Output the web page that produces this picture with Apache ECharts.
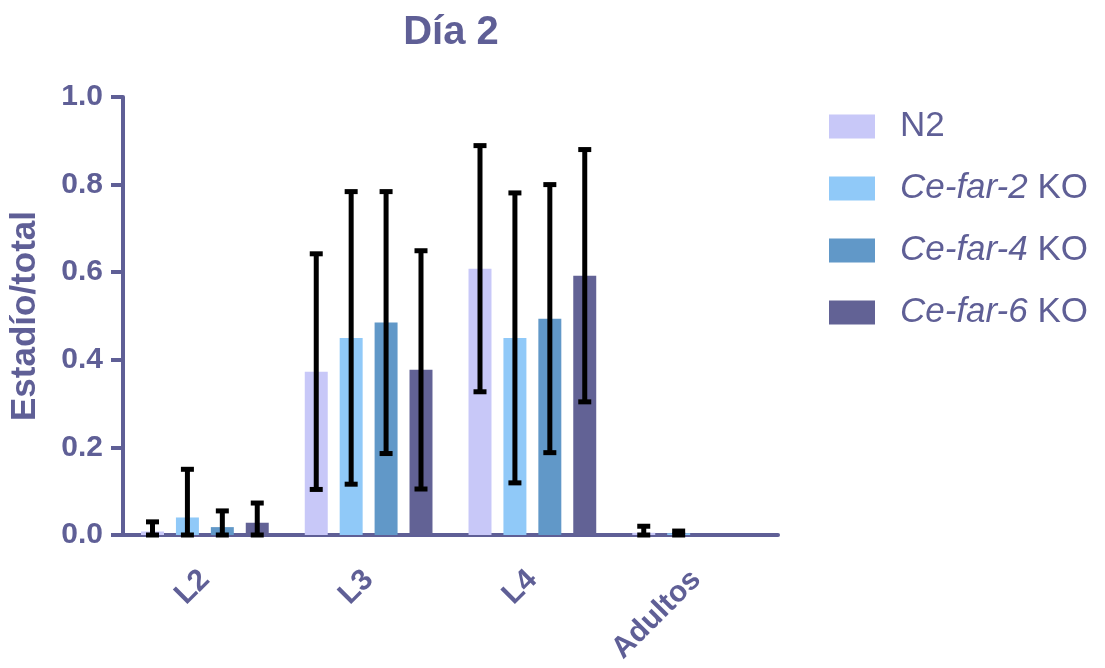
<!DOCTYPE html>
<html>
<head>
<meta charset="utf-8">
<script src="https://cdn.jsdelivr.net/npm/echarts@6/dist/echarts.min.js"></script>
<style>
  html, body { margin: 0; padding: 0; background: #fff; }
  #chart { width: 1105px; height: 668px; }
</style>
</head>
<body>
<div id="chart"></div>
<script>
const categories = ['L2', 'L3', 'L4', 'Adultos'];
const seriesNames = ['N2', 'Ce-far-2 KO', 'Ce-far-4 KO', 'Ce-far-6 KO'];

// mean values
const n2 = [0.008, 0.373, 0.608, 0.005];
const far2 = [0.040, 0.450, 0.450, 0.004];
const far4 = [0.018, 0.485, 0.494, 0];
const far6 = [0.028, 0.377, 0.592, 0];

// standard deviation (error bars)
const n2Sd = [0.022, 0.269, 0.281, 0.015];
const far2Sd = [0.110, 0.334, 0.331, 0.005];
const far4Sd = [0.037, 0.299, 0.306, 0];
const far6Sd = [0.045, 0.272, 0.288, 0];

const yTicks = [0, 0.2, 0.4, 0.6, 0.8, 1.0];

const means = [n2, far2, far4, far6];
const sds = [n2Sd, far2Sd, far4Sd, far6Sd];
const colors = ['#c8c8f8', '#90c9f8', '#6198c8', '#626295'];
const ink = '#5f5f96';
const font = 'Liberation Sans, Arial, sans-serif';

const CAT_GAP = 0.22;
const BAR_GAP = 0.52;

const chart = echarts.init(document.getElementById('chart'));

function errorSeries(k) {
    const data = categories.map((c, i) => {
        const m = means[k][i], s = sds[k][i];
        return [i, Math.max(0, m - s), m + s];
    }).filter(d => d[2] > 0);
    return {
        type: 'custom',
        name: seriesNames[k] + ' err',
        z: 10,
        data: data,
        renderItem: function (params, api) {
            const catW = api.size([1, 0])[0];
            const n = 4;
            const barW = catW * (1 - CAT_GAP) / (n + (n - 1) * BAR_GAP);
            const step = barW * (1 + BAR_GAP);
            const dx = (k - (n - 1) / 2) * step;
            const lo = api.coord([api.value(0), api.value(1)]);
            const hi = api.coord([api.value(0), api.value(2)]);
            const x = lo[0] + dx;
            const capW = 13;
            const st = { stroke: '#000', lineWidth: 5 };
            return {
                type: 'group',
                children: [
                    { type: 'line', shape: { x1: x, y1: lo[1], x2: x, y2: hi[1] }, style: st },
                    { type: 'line', shape: { x1: x - capW / 2, y1: hi[1], x2: x + capW / 2, y2: hi[1] }, style: st },
                    { type: 'line', shape: { x1: x - capW / 2, y1: lo[1], x2: x + capW / 2, y2: lo[1] }, style: st }
                ]
            };
        }
    };
}

const barSeries = seriesNames.map((name, k) => ({
    type: 'bar',
    name: name,
    data: means[k],
    itemStyle: { color: colors[k] },
    barGap: (BAR_GAP * 100) + '%',
    barCategoryGap: (CAT_GAP * 100) + '%'
}));

const option = {
    animation: false,
    title: {
        text: 'Día 2',
        left: 446,
        textAlign: 'center',
        top: 8,
        textStyle: { color: ink, fontSize: 40, fontWeight: 'bold', fontFamily: font }
    },
    legend: {
        data: seriesNames,
        orient: 'vertical',
        left: 824,
        top: 104,
        itemWidth: 46,
        itemHeight: 24,
        itemGap: 27,
        icon: 'rect',
        formatter: function (name) {
            if (name === 'N2') return '{n|N2}';
            const parts = name.split(' ');
            return '{i|' + parts[0] + '}{n| ' + parts[1] + '}';
        },
        textStyle: {
            color: ink,
            fontFamily: font,
            padding: [0, 0, 0, 20],
            rich: {
                n: { fontSize: 35, lineHeight: 34, color: ink, fontFamily: font },
                i: { fontSize: 35, lineHeight: 34, color: ink, fontStyle: 'italic', fontFamily: font }
            }
        }
    },
    grid: { left: 123, right: 327, top: 97, bottom: 133, outerBoundsMode: 'none', containLabel: false },
    xAxis: {
        type: 'category',
        data: categories,
        axisLine: { lineStyle: { color: ink, width: 4 } },
        axisTick: { alignWithLabel: true, length: 14, lineStyle: { color: ink, width: 4 } },
        axisLabel: {
            rotate: 45,
            margin: 40,
            color: ink,
            fontSize: 30,
            fontWeight: 'bold',
            fontFamily: font
        }
    },
    yAxis: {
        type: 'value',
        min: 0,
        max: 1,
        interval: 0.2,
        name: 'Estadío/total',
        nameLocation: 'middle',
        nameGap: 80,
        nameTextStyle: { color: ink, fontSize: 35, fontWeight: 'bold', fontFamily: font },
        axisLine: { show: true, lineStyle: { color: ink, width: 4 } },
        axisTick: { show: true, length: 12, lineStyle: { color: ink, width: 4 } },
        splitLine: { show: false },
        axisLabel: {
            color: ink,
            fontSize: 30,
            fontWeight: 'bold',
            fontFamily: font,
            margin: 20,
            formatter: v => yTicks.some(t => Math.abs(t - v) < 1e-9) ? v.toFixed(1) : ''
        }
    },
    series: barSeries.concat([0, 1, 2, 3].map(errorSeries))
};

chart.setOption(option);
</script>
</body>
</html>
